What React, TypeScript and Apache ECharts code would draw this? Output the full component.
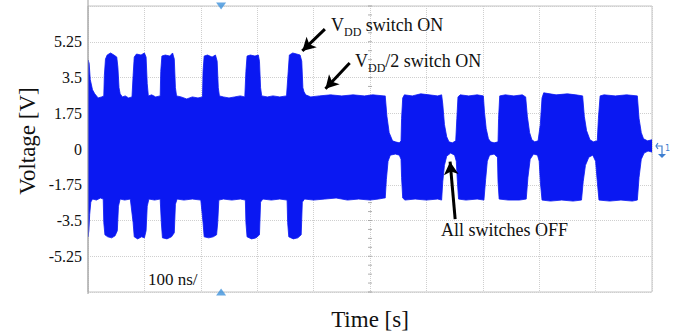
import React, { useEffect, useRef } from "react";
import * as echarts from "echarts";

// Time axis (ns): 10 divisions of 100 ns
const timeTicks = [0, 100, 200, 300, 400, 500, 600, 700, 800, 900, 1000];
// Voltage tick labels (V)
const voltTicks = [-5.25, -3.5, -1.75, 0, 1.75, 3.5, 5.25];

// Upper envelope of the captured waveform [time ns, V]
const upperEnvelope: number[][] = [
  [0, 4.36], [2, 4.2], [4, 3.4], [8, 2.9], [12, 2.7], [18, 2.5], [24, 2.55], [28, 2.6],
  [29, 3.6], [31, 4.4], [34, 4.6], [40, 4.7], [46, 4.6], [51, 4.5], [53, 4.0], [55, 3.0], [57, 2.7], [61, 2.55], [66, 2.6],
  [72, 2.5], [78, 2.55], [80, 3.6], [82, 4.5], [86, 4.65], [94, 4.6], [100, 4.7], [103, 4.5], [105, 3.2], [107, 2.6], [113, 2.65], [120, 2.55], [128, 2.6],
  [129, 3.8], [131, 4.55], [137, 4.6], [145, 4.55], [150, 4.7], [153, 4.4], [155, 3.0], [157, 2.6], [165, 2.55], [175, 2.45], [185, 2.55], [195, 2.5], [203, 2.55],
  [204, 3.8], [206, 4.55], [212, 4.6], [220, 4.5], [226, 4.6], [229, 4.3], [231, 3.0], [233, 2.6], [240, 2.55], [250, 2.5], [260, 2.55], [270, 2.6], [278, 2.55],
  [280, 3.8], [282, 4.55], [288, 4.6], [296, 4.55], [302, 4.6], [304, 4.3], [306, 3.0], [308, 2.6], [318, 2.55], [328, 2.6], [340, 2.55], [352, 2.6],
  [355, 3.8], [357, 4.6], [363, 4.7], [370, 4.65], [376, 4.6], [379, 4.3], [381, 3.0], [383, 2.8], [386, 2.65], [395, 2.55], [410, 2.6], [430, 2.65], [450, 2.6], [470, 2.65], [490, 2.6], [505, 2.65], [525, 2.6],
  [527, 2.6], [530, 1.6], [534, 0.8], [540, 0.4], [545, 0.35], [552, 0.3], [555, 0.4],
  [556, 1.5], [558, 2.5], [561, 2.65], [575, 2.6], [590, 2.7], [605, 2.65], [620, 2.6], [627, 2.65], [629, 2.2], [632, 1.2], [636, 0.6], [640, 0.35], [646, 0.3], [652, 0.4],
  [654, 1.5], [656, 2.55], [660, 2.65], [675, 2.6], [690, 2.65], [701, 2.6], [703, 1.8], [706, 1.0], [710, 0.5], [714, 0.35], [720, 0.3], [727, 0.35],
  [728, 1.5], [730, 2.6], [740, 2.65], [755, 2.6], [770, 2.65], [776, 2.55], [779, 1.6], [783, 0.8], [787, 0.45], [792, 0.35], [798, 0.4],
  [802, 1.2], [805, 2.5], [808, 2.75], [830, 2.65], [850, 2.7], [865, 2.65], [877, 2.6], [880, 1.6], [884, 0.9], [890, 0.45], [896, 0.35], [903, 0.4],
  [905, 1.5], [908, 2.6], [915, 2.65], [935, 2.6], [955, 2.65], [974, 2.6], [977, 1.5], [981, 0.8], [985, 0.5], [992, 0.4], [1000, 0.45],
];

// Lower envelope of the captured waveform [time ns, V]
const lowerEnvelope: number[][] = [
  [0, -4.3], [1.5, -4.0], [3, -3.2], [5, -2.6], [8, -2.45], [15, -2.5], [22, -2.4], [27, -2.45],
  [28, -3.6], [30, -4.2], [35, -4.3], [42, -4.35], [48, -4.25], [52, -4.0], [54, -2.8], [57, -2.45], [65, -2.5], [75, -2.45],
  [80, -3.6], [82, -4.3], [88, -4.4], [95, -4.3], [100, -4.35], [103, -4.0], [105, -2.8], [108, -2.45], [118, -2.5], [128, -2.45],
  [130, -3.6], [132, -4.35], [140, -4.4], [148, -4.3], [153, -4.1], [155, -2.7], [158, -2.45], [170, -2.5], [185, -2.45], [200, -2.5],
  [204, -3.6], [206, -4.3], [214, -4.35], [222, -4.3], [228, -4.2], [230, -3.6], [232, -2.5], [240, -2.45], [255, -2.5], [270, -2.45], [279, -2.5],
  [280, -3.6], [282, -4.3], [290, -4.4], [298, -4.35], [304, -4.2], [306, -2.6], [310, -2.45], [325, -2.5], [340, -2.45], [353, -2.5],
  [354, -3.6], [356, -4.3], [364, -4.4], [372, -4.35], [378, -4.2], [380, -2.6], [384, -2.45], [400, -2.5], [420, -2.45], [440, -2.4], [460, -2.5], [480, -2.45], [500, -2.5], [515, -2.45], [525, -2.4],
  [527, -2.4], [529, -1.5], [532, -0.6], [536, -0.3], [545, -0.25], [552, -0.3], [555, -0.5],
  [556, -1.4], [558, -2.4], [562, -2.5], [580, -2.45], [600, -2.5], [620, -2.45], [627, -2.5], [629, -1.6], [632, -0.8], [636, -0.35], [643, -0.2], [650, -0.3], [653, -0.6],
  [655, -1.6], [657, -2.45], [670, -2.5], [690, -2.45], [702, -2.5], [705, -1.5], [708, -0.6], [712, -0.3], [720, -0.25], [726, -0.4],
  [727, -1.6], [729, -2.45], [745, -2.5], [765, -2.5], [777, -2.45], [780, -1.4], [784, -0.5], [790, -0.25], [797, -0.3], [800, -0.6],
  [802, -1.6], [805, -2.5], [820, -2.55], [840, -2.5], [860, -2.55], [875, -2.5], [878, -1.6], [882, -0.8], [888, -0.4], [895, -0.3], [900, -0.6],
  [903, -1.6], [906, -2.5], [925, -2.55], [945, -2.5], [965, -2.55], [974, -2.5], [977, -1.4], [981, -0.5], [986, -0.2], [993, -0.1], [1000, -0.15],
];

// Annotation arrows [tailTime, tailV, tipTime, tipV]
const arrows: number[][] = [
  [420, 5.87, 380, 4.8],
  [464, 4.21, 421, 2.95],
  [651, -3.43, 642, -0.62],
];

// Trigger-position markers (time ns)
const triggerTime = 236;

// Centre graticule minor ticks (V)
const centerTicks: number[] = [];
for (let i = -16; i <= 16; i++) centerTicks.push(i * 0.4375);

const BLUE = "#0a18f2";
const SERIF = "Liberation Serif";

export default function App() {
  const ref = useRef<HTMLDivElement>(null);
  useEffect(() => {
    if (!ref.current) return;
    const chart = echarts.init(ref.current, undefined, { renderer: "svg" });
    chart.setOption({
      animation: false,
      backgroundColor: "#ffffff",
      textStyle: { fontFamily: SERIF },
      grid: {
        left: 88,
        right: 26,
        top: 6,
        bottom: 44,
        show: true,
        borderColor: "#c4c4c4",
        borderWidth: 1,
      },
      xAxis: {
        type: "value",
        min: timeTicks[0],
        max: timeTicks[timeTicks.length - 1],
        interval: 100,
        axisLine: { show: false },
        axisTick: { show: false },
        axisLabel: { show: false },
        splitLine: { lineStyle: { color: "#cfcfcf", type: "dotted", width: 1 } },
      },
      yAxis: {
        type: "value",
        min: -7,
        max: 7,
        interval: 1.75,
        axisLine: { show: false },
        axisTick: { show: false },
        axisLabel: {
          fontFamily: SERIF,
          fontSize: 16,
          color: "#111",
          margin: 6,
          formatter: (v: number) => (voltTicks.some((t) => Math.abs(t - v) < 1e-6) ? String(v) : ""),
        },
        splitLine: { lineStyle: { color: "#cfcfcf", type: "dotted", width: 1 } },
      },
      series: [
        {
          type: "scatter",
          data: centerTicks.map((v) => [500, v]),
          symbol: "rect",
          symbolSize: [4, 1],
          itemStyle: { color: "#9a9a9a" },
          silent: true,
          z: 1,
        },
        {
          type: "custom",
          data: [[0, 0]],
          clip: true,
          silent: true,
          z: 2,
          renderItem: (_params: any, api: any) => {
            const pts = upperEnvelope.map((p) => api.coord([p[0], p[1]]));
            const low = lowerEnvelope.map((p) => api.coord([p[0], p[1]]));
            low.reverse();
            return {
              type: "polygon",
              shape: { points: pts.concat(low) },
              style: { fill: BLUE, stroke: BLUE, lineWidth: 0.8 },
            };
          },
        },
        {
          type: "scatter",
          data: [
            { value: [triggerTime, 7], symbolRotate: 180 },
            { value: [triggerTime, -7], symbolRotate: 0 },
          ],
          symbol: "triangle",
          symbolSize: [10, 7],
          itemStyle: { color: "#3f92dc" },
          clip: false,
          silent: true,
          z: 5,
        },
        {
          type: "line",
          data: [],
          silent: true,
          z: 6,
          markLine: {
            silent: true,
            animation: false,
            symbol: ["none", "arrow"],
            symbolSize: [11, 13],
            label: { show: false },
            lineStyle: { color: "#000", width: 3, type: "solid" },
            data: arrows.map((a) => [
              { coord: [a[0], a[1]] },
              { coord: [a[2], a[3]] },
            ]),
          },
        },
      ],
      graphic: [
        {
          type: "line",
          shape: { x1: 88, y1: 0, x2: 88, y2: 294 },
          style: { stroke: "#9c9c9c", lineWidth: 1 },
          z: 10,
        },
        {
          type: "text",
          left: 331,
          top: 16,
          style: {
            text: "{v|V}{s|DD}{v| switch ON}",
            rich: {
              v: { fontFamily: SERIF, fontSize: 18, fill: "#111", verticalAlign: "bottom", padding: [0, 0, 4, 0] },
              s: { fontFamily: SERIF, fontSize: 12, fill: "#111", verticalAlign: "bottom" },
            },
          },
          z: 10,
        },
        {
          type: "text",
          left: 355,
          top: 52,
          style: {
            text: "{v|V}{s|DD}{v|/2 switch ON}",
            rich: {
              v: { fontFamily: SERIF, fontSize: 18, fill: "#111", verticalAlign: "bottom", padding: [0, 0, 4, 0] },
              s: { fontFamily: SERIF, fontSize: 12, fill: "#111", verticalAlign: "bottom" },
            },
          },
          z: 10,
        },
        {
          type: "text",
          left: 441,
          top: 221,
          style: { text: "All switches OFF", fontFamily: SERIF, fontSize: 18, fill: "#111" },
          z: 10,
        },
        {
          type: "text",
          left: 148,
          top: 271,
          style: { text: "100 ns/", fontFamily: SERIF, fontSize: 17, fill: "#111" },
          z: 10,
        },
        {
          type: "text",
          x: 370,
          y: 319,
          style: { text: "Time [s]", fontFamily: SERIF, fontSize: 23, fill: "#111", align: "center", verticalAlign: "middle" },
          z: 10,
        },
        {
          type: "text",
          x: 27,
          y: 141,
          rotation: Math.PI / 2,
          style: { text: "Voltage [V]", fontFamily: SERIF, fontSize: 23, fill: "#111", align: "center", verticalAlign: "middle" },
          z: 10,
        },
        {
          type: "group",
          x: 656,
          y: 143,
          z: 10,
          children: [
            { type: "polyline", shape: { points: [[0, 3], [6, 3], [6, 11]] }, style: { stroke: "#3f7fd0", lineWidth: 1.2, fill: "none" } },
            { type: "polyline", shape: { points: [[2, 0], [0, 3], [2, 6]] }, style: { stroke: "#3f7fd0", lineWidth: 1.2, fill: "none" } },
            { type: "polygon", shape: { points: [[2, 11], [10, 11], [6, 15]] }, style: { fill: "#3f7fd0" } },
            { type: "text", x: 9, y: 1, style: { text: "1", fontFamily: "DejaVu Sans", fontSize: 8, fill: "#3f7fd0" } },
          ],
        },
      ],
    });
    return () => chart.dispose();
  }, []);
  return (
    <div
      ref={ref}
      style={{ position: "fixed", left: 0, top: 0, width: 678, height: 336, background: "#fff" }}
    />
  );
}
